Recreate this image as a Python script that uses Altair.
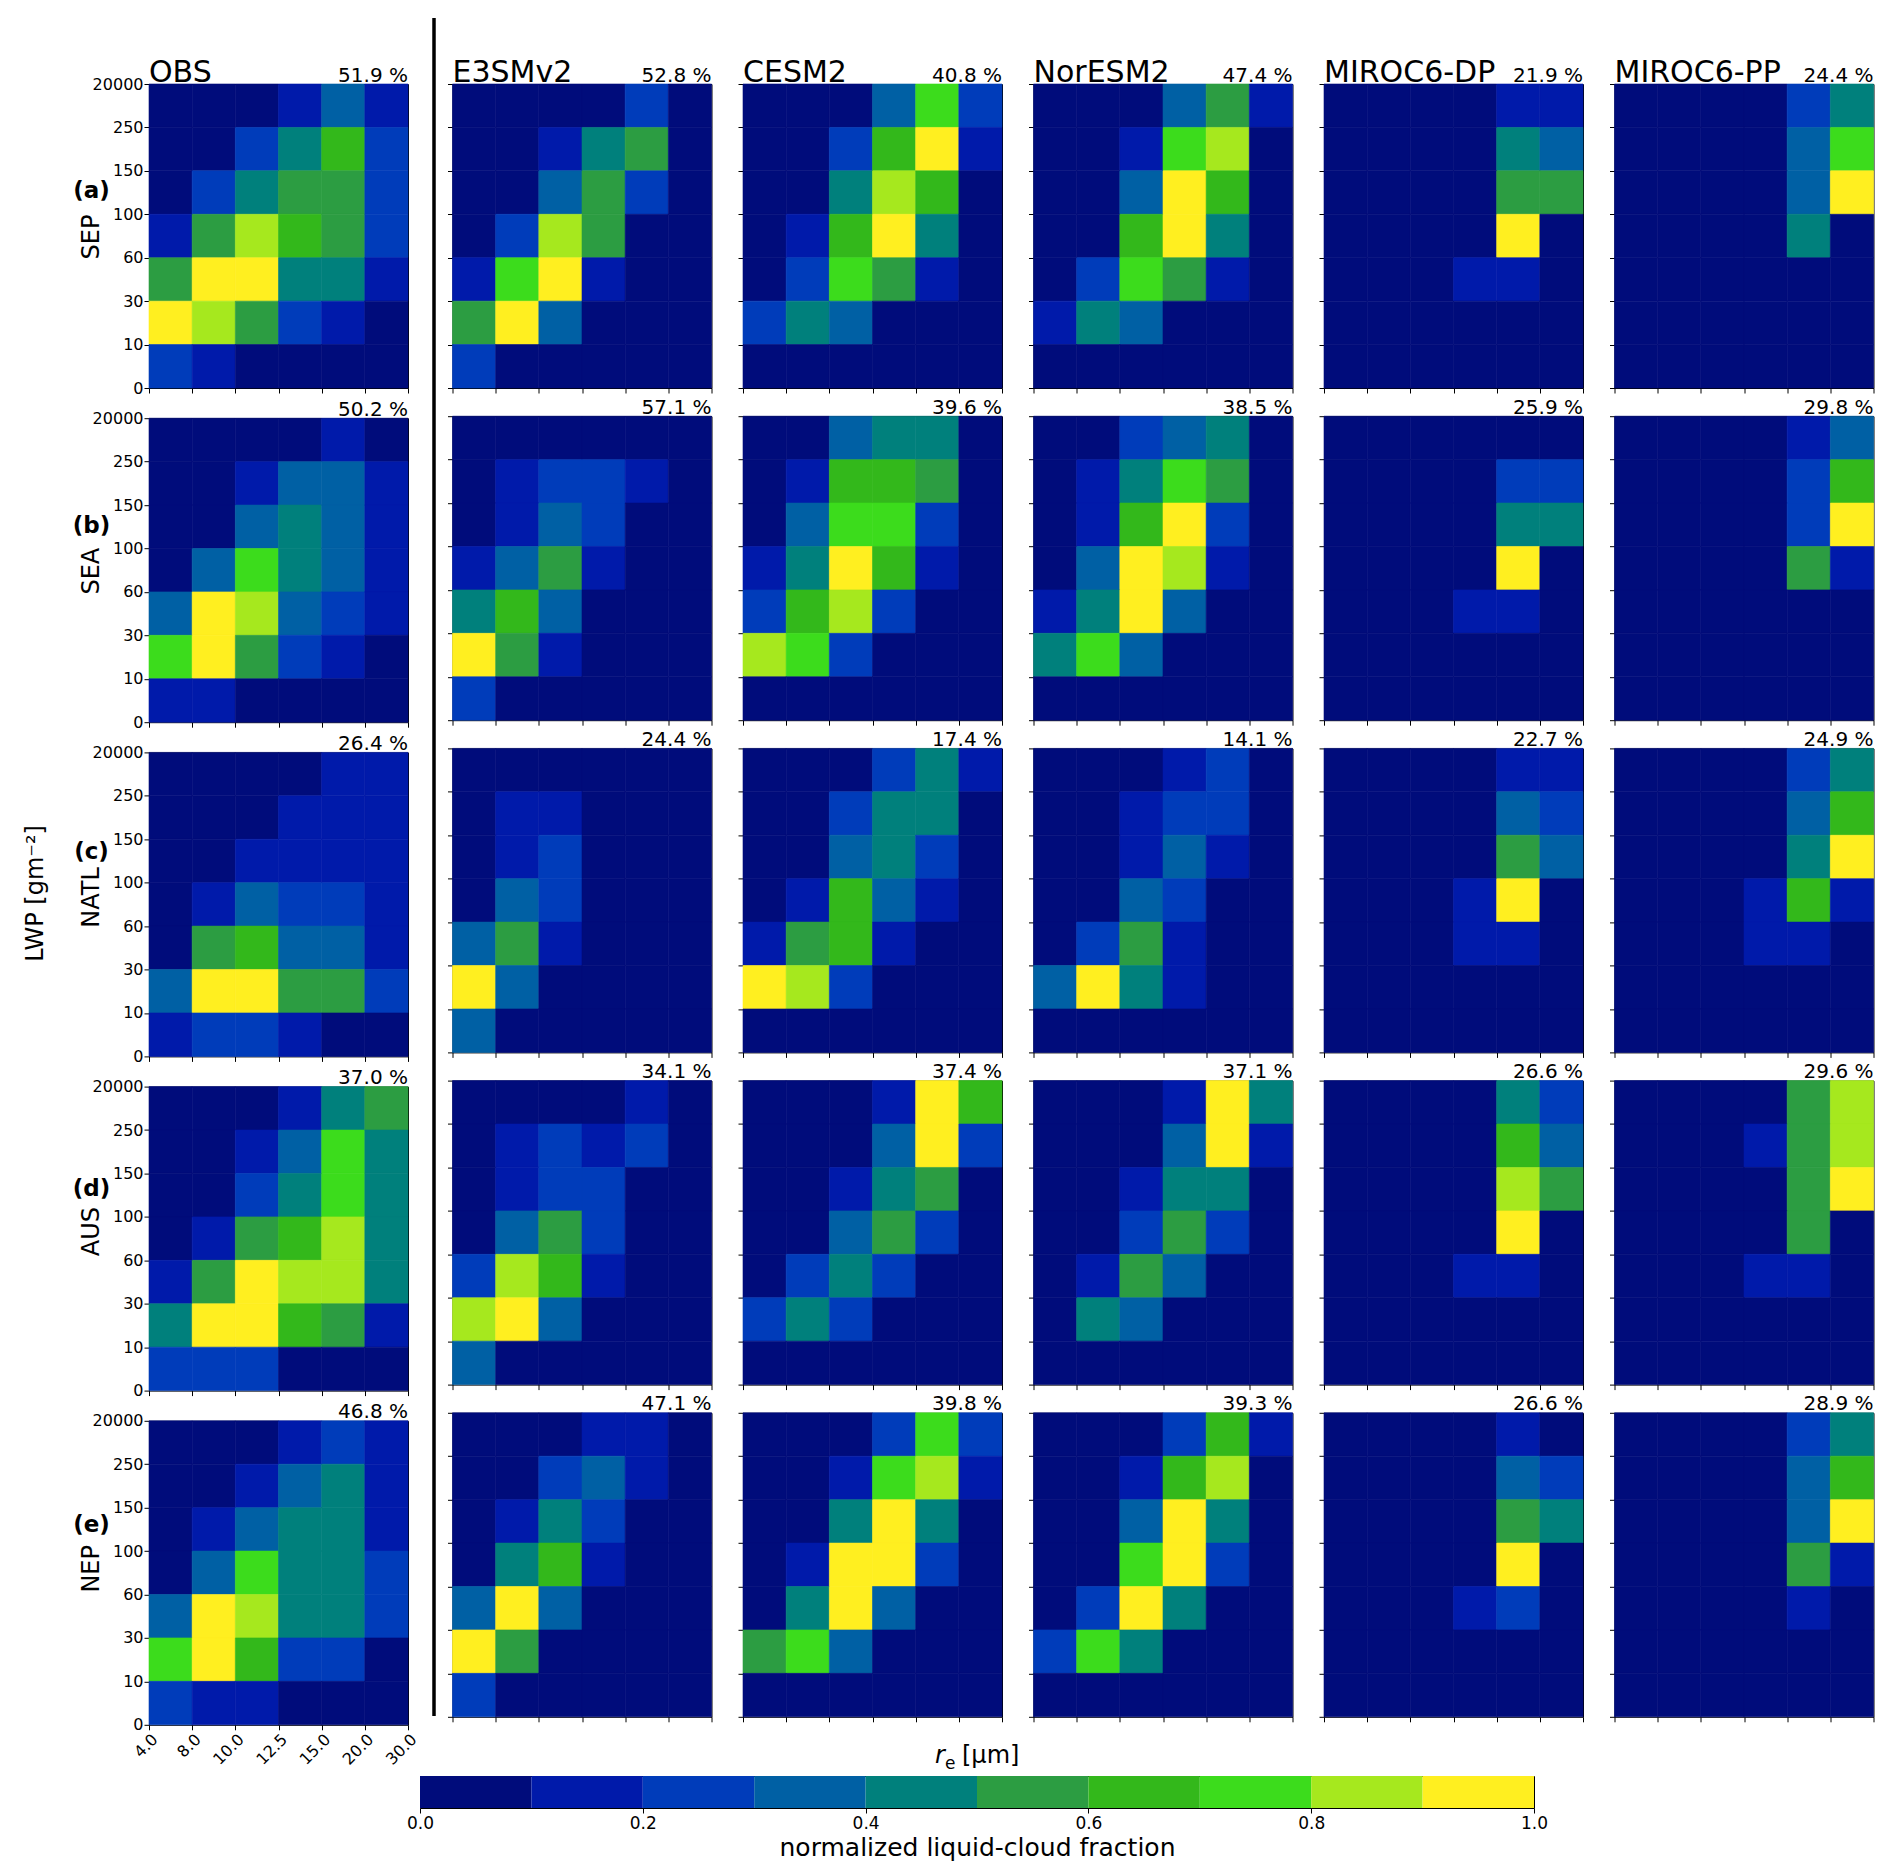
import altair as alt
import pandas as pd

FONT = "DejaVu Sans"
MODELS = ["OBS", "E3SMv2", "CESM2", "NorESM2", "MIROC6-DP", "MIROC6-PP"]
REGIONS = ["SEP", "SEA", "NATL", "AUS", "NEP"]
TAGS = ["(a)", "(b)", "(c)", "(d)", "(e)"]
RE_LABELS = ["4.0", "8.0", "10.0", "12.5", "15.0", "20.0", "30.0"]
LWP_LABELS = ["0", "10", "30", "60", "100", "150", "250", "20000"]
CLASS_EDGES = [0.1, 0.2, 0.3, 0.4, 0.5, 0.6, 0.7, 0.8, 0.9]
COLORS = ["#000c7b", "#001aaa", "#003cba", "#0060a4", "#00807c",
          "#2c9d42", "#33b81b", "#3cdc1c", "#a6e81e", "#ffef20"]
CBAR_TICKS = [0.0, 0.2, 0.4, 0.6, 0.8, 1.0]

# cloud fraction percentage per panel (columns follow MODELS)
PCT_SEP = [51.9, 52.8, 40.8, 47.4, 21.9, 24.4]
PCT_SEA = [50.2, 57.1, 39.6, 38.5, 25.9, 29.8]
PCT_NATL = [26.4, 24.4, 17.4, 14.1, 22.7, 24.9]
PCT_AUS = [37.0, 34.1, 37.4, 37.1, 26.6, 29.6]
PCT_NEP = [46.8, 47.1, 39.8, 39.3, 26.6, 28.9]

# normalized liquid-cloud fraction class (0..9 -> 0.0-0.1 ... 0.9-1.0)
# each string = one LWP bin row, top (250-20000) to bottom (0-10); chars = re bins 4-8 ... 20-30
SEP = {
    "OBS": ["000131", "002462", "024552", "158652", "599441", "985210", "210000"],
    "E3SMv2": ["000020", "001450", "003520", "028500", "179100", "593000", "200000"],
    "CESM2": ["000372", "002691", "004860", "016940", "027510", "243000", "000000"],
    "NorESM2": ["000351", "001780", "003960", "006940", "027510", "143000", "000000"],
    "MIROC6-DP": ["000011", "000043", "000055", "000090", "000110", "000000", "000000"],
    "MIROC6-PP": ["000024", "000037", "000039", "000040", "000000", "000000", "000000"],
}
SEA = {
    "OBS": ["000010", "001331", "003431", "037431", "398321", "795210", "110000"],
    "E3SMv2": ["000000", "012210", "013200", "135100", "463000", "951000", "200000"],
    "CESM2": ["003440", "016650", "037720", "149610", "268200", "872000", "000000"],
    "NorESM2": ["002340", "014750", "016920", "039810", "149300", "473000", "000000"],
    "MIROC6-DP": ["000000", "000022", "000044", "000090", "000110", "000000", "000000"],
    "MIROC6-PP": ["000013", "000026", "000029", "000051", "000000", "000000", "000000"],
}
NATL = {
    "OBS": ["000011", "000111", "001111", "013221", "056331", "399552", "122100"],
    "E3SMv2": ["000000", "011000", "012000", "032000", "351000", "930000", "300000"],
    "CESM2": ["000241", "002440", "003420", "016310", "156100", "982000", "000000"],
    "NorESM2": ["000120", "001220", "001310", "003200", "025100", "394100", "000000"],
    "MIROC6-DP": ["000011", "000032", "000053", "000190", "000110", "000000", "000000"],
    "MIROC6-PP": ["000024", "000036", "000049", "000161", "000110", "000000", "000000"],
}
AUS = {
    "OBS": ["000145", "001374", "002474", "015684", "159884", "499651", "222000"],
    "E3SMv2": ["000010", "012120", "012200", "035200", "286100", "893000", "300000"],
    "CESM2": ["000196", "000392", "001450", "003520", "024200", "242000", "000000"],
    "NorESM2": ["000194", "000391", "001440", "002520", "015300", "043000", "000000"],
    "MIROC6-DP": ["000042", "000063", "000085", "000090", "000110", "000000", "000000"],
    "MIROC6-PP": ["000058", "000158", "000059", "000050", "000110", "000000", "000000"],
}
NEP = {
    "OBS": ["000121", "001341", "013441", "037442", "398442", "796220", "211000"],
    "E3SMv2": ["000110", "002310", "014200", "046100", "393000", "950000", "200000"],
    "CESM2": ["000272", "001781", "004940", "019920", "049300", "573000", "000000"],
    "NorESM2": ["000261", "001680", "003940", "007920", "029400", "274000", "000000"],
    "MIROC6-DP": ["000010", "000032", "000054", "000090", "000120", "000000", "000000"],
    "MIROC6-PP": ["000024", "000036", "000039", "000051", "000010", "000000", "000000"],
}
GRIDS = [SEP, SEA, NATL, AUS, NEP]
PCTS = [PCT_SEP, PCT_SEA, PCT_NATL, PCT_AUS, PCT_NEP]

# ---------------------------------------------------------------- layout
W, H = 259, 304
TAG_Y = [107, 108, 100, 102, 104.5]
REG_Y = [153, 153, 145, 145, 148]
ONE = pd.DataFrame({"k": [0]})
NOFRAME = alt.ViewBackground(stroke="transparent")

RE_EXPR = "[" + ",".join("'%s'" % t for t in RE_LABELS) + "][datum.value]"
LWP_EXPR = "[" + ",".join("'%s'" % t for t in LWP_LABELS) + "][datum.value]"

color_scale = alt.Scale(type="threshold", domain=CLASS_EDGES, range=COLORS)


def guard(x0, x1, y0, y1):
    return alt.Chart(ONE).mark_rect(opacity=0).encode(
        x=alt.value(x0), x2=alt.value(x1), y=alt.value(y0), y2=alt.value(y1))


def label(text, x, y, **kw):
    return alt.Chart(pd.DataFrame({"t": [text]})).mark_text(
        font=FONT, color="black", **kw).encode(
        text="t:N", x=alt.value(x), y=alt.value(y))


def panel(ri, mi):
    model = MODELS[mi]
    rows = GRIDS[ri][model]
    recs = []
    for r, s in enumerate(rows):
        yb = len(rows) - 1 - r
        for c, ch in enumerate(s):
            recs.append({"x0": c, "x1": c + 1, "y0": yb, "y1": yb + 1,
                         "v": (int(ch) + 0.5) / 10})
    df = pd.DataFrame(recs)
    obs = mi == 0
    show_x = obs and ri == 4

    xaxis = alt.Axis(values=list(range(7)), labels=show_x, labelExpr=RE_EXPR,
                     labelAngle=-45, labelAlign="right", labelBaseline="top",
                     labelFontSize=16, labelPadding=1, labelFlush=False,
                     labelOverlap=False, ticks=True, tickSize=5, tickWidth=1,
                     domain=False, grid=False, title=None)
    yaxis = alt.Axis(values=list(range(8)), labels=obs, labelExpr=LWP_EXPR,
                     labelFontSize=16, labelPadding=1, labelFlush=False,
                     labelOverlap=False, ticks=True, tickSize=5, tickWidth=1,
                     domain=False, grid=False, title=None)

    heat = alt.Chart(df).mark_rect(strokeWidth=0.6).encode(
        x=alt.X("x0:Q", scale=alt.Scale(domain=[0, 6], nice=False, zero=False), axis=xaxis),
        x2="x1:Q",
        y=alt.Y("y0:Q", scale=alt.Scale(domain=[0, 7], nice=False, zero=False), axis=yaxis),
        y2="y1:Q",
        color=alt.Color("v:Q", scale=color_scale, legend=None),
        stroke=alt.Stroke("v:Q", scale=color_scale, legend=None),
    )

    left = -127 if obs else -6
    right = W + 14 if obs else W + 1
    top = -66 if ri == 0 else -21
    bottom = H + 50 if show_x else H + 6
    layers = [guard(left, right, top, bottom), heat,
              label("%.1f %%" % PCTS[ri][mi], W, -2.5, align="right",
                    baseline="alphabetic", fontSize=20)]
    if ri == 0:
        layers.append(label(model, 0, -2.5, align="left", baseline="alphabetic",
                            fontSize=30))
    if obs:
        layers.append(label(TAGS[ri], -57.5, TAG_Y[ri], align="center",
                            baseline="middle", fontSize=23, fontWeight="bold"))
        layers.append(label(REGIONS[ri], -57.5, REG_Y[ri], align="center",
                            baseline="middle", fontSize=24, angle=270))
        if ri == 2:
            layers.append(label("LWP [gm\u207b\u00b2]", -113, 141, align="center",
                                baseline="middle", fontSize=24, angle=270))
    return alt.layer(*layers).properties(width=W, height=H)


ROW_SP = -0.8
obs_col = alt.vconcat(*[panel(ri, 0) for ri in range(5)], spacing=ROW_SP)
models_col = alt.vconcat(
    *[alt.hconcat(*[panel(ri, mi) for mi in range(1, 6)], spacing=22.5)
      for ri in range(5)],
    spacing=ROW_SP)

ROWS_H = 5 * H + 4 * 28
sep = alt.Chart(ONE).mark_rule(color="black", strokeWidth=3.5).encode(
    x=alt.value(11), y=alt.value(-66), y2=alt.value(ROWS_H)
).properties(width=24, height=ROWS_H, view=NOFRAME)

grid = alt.hconcat(obs_col, sep, models_col, spacing=-2.5)

# ---------------------------------------------------------------- colorbar
lo = [0.0] + CLASS_EDGES
hi = CLASS_EDGES + [1.0]
cb_df = pd.DataFrame({"lo": lo, "hi": hi, "v": [(a + b) / 2 for a, b in zip(lo, hi)]})
CBW, CBH = 1114, 32
cb_rects = alt.Chart(cb_df).mark_rect().encode(
    x=alt.X("lo:Q", scale=alt.Scale(domain=[0, 1], nice=False, zero=False),
            axis=alt.Axis(values=CBAR_TICKS, format=".1f", labelFontSize=17,
                          labelPadding=2, labelFlush=False, tickSize=5, tickWidth=1,
                          domain=False, grid=False,
                          title="normalized liquid-cloud fraction",
                          titleFontSize=25, titleFontWeight="normal", titlePadding=4)),
    x2="hi:Q",
    color=alt.Color("v:Q", scale=color_scale, legend=None),
)
cbar = alt.layer(
    guard(-20, 0, -34, CBH),
    cb_rects,
    label("r", 515, -13, align="left", baseline="alphabetic", fontSize=24, fontStyle="italic"),
    label("e", 525, -7, align="left", baseline="alphabetic", fontSize=17),
    label("[\u03bcm]", 542, -13, align="left", baseline="alphabetic", fontSize=24),
).properties(width=CBW, height=CBH)

spacer = guard(0, 1, 0, 1).properties(width=249, height=1, view=NOFRAME)
cbar_row = alt.hconcat(spacer, cbar, spacing=0)

chart = alt.vconcat(grid, cbar_row, spacing=-38).properties(
    padding={"left": 13, "top": 7, "right": 5, "bottom": 2}
).configure_view(stroke="black", strokeWidth=1).configure_axis(
    labelFont=FONT, titleFont=FONT, labelColor="black", titleColor="black",
    tickColor="black")

chart.save("out.html", embed_options={"renderer": "svg", "actions": False})
